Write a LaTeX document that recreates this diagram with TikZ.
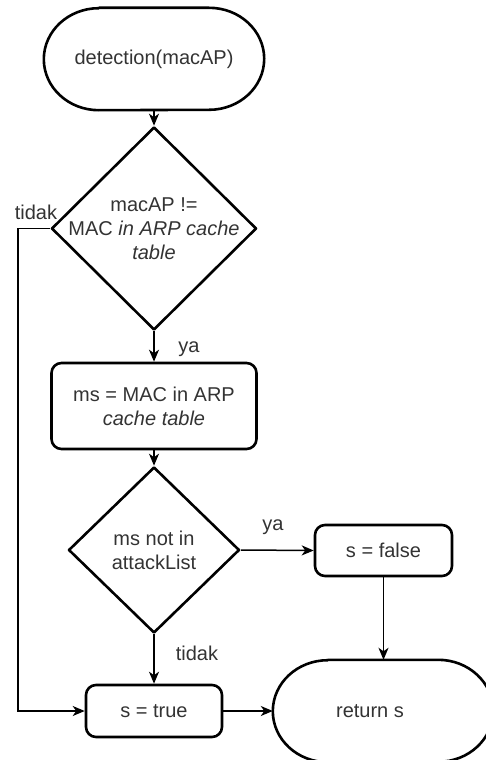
\documentclass[tikz,border=0pt]{standalone}
\usepackage{fontspec}
\setmainfont{Liberation Sans}
\usetikzlibrary{shapes.geometric,arrows.meta}
\definecolor{txt}{HTML}{333333}
\begin{document}
\begin{tikzpicture}[x=1pt,y=-1pt,
  font=\fontsize{20}{24}\selectfont, text=txt,
  outline/.style={draw=black, line width=2.6pt, line join=round},
  proc/.style={outline, rounded corners=10pt, inner sep=0pt, align=center},
  decision/.style={outline, diamond, inner sep=0pt},
  term/.style={inner sep=0pt, minimum width=220pt, minimum height=102pt},
  txtnode/.style={align=center, inner sep=0pt},
  flow/.style={draw=black, line width=1.5pt, -{Stealth[length=12pt,width=10pt,inset=3.5pt]}},
  lbl/.style={anchor=base, inner sep=0pt},
]
\useasboundingbox (0,0) rectangle (486,760);

% start terminator
\node[term] (start) at (154,59) {detection(macAP)};
\draw[outline] ([xshift=55pt]start.north west) -- ([xshift=-55pt]start.north east)
  arc[start angle=90, end angle=-90, x radius=55pt, y radius=51pt]
  -- ([xshift=55pt]start.south west)
  arc[start angle=270, end angle=90, x radius=55pt, y radius=51pt] -- cycle;

% first decision
\node[decision, minimum width=205pt, minimum height=203pt] (d1) at (154,228.5) {};
\node[txtnode] (d1t) at (d1) {macAP !=\\MAC \textit{in ARP cache}\\\textit{table}};

% lookup
\node[proc, minimum width=205pt, minimum height=86pt] (ms) at (154,406)
  {ms = MAC in ARP\\\textit{cache table}};

% second decision
\node[decision, minimum width=171pt, minimum height=166pt] (d2) at (154,550) {};
\node[txtnode] (d2t) at (d2) {ms not in\\attackList};

% results
\node[proc, minimum width=137pt, minimum height=51pt] (sfalse) at (383.5,550.5) {s = false};
\node[proc, minimum width=136pt, minimum height=52pt] (strue) at (154,711) {s = true};

% return terminator
\node[term] (ret) at (383,711) {};
\draw[outline] ([xshift=55pt]ret.north west) -- ([xshift=-55pt]ret.north east)
  arc[start angle=90, end angle=-90, x radius=55pt, y radius=51pt]
  -- ([xshift=55pt]ret.south west)
  arc[start angle=270, end angle=90, x radius=55pt, y radius=51pt] -- cycle;
\node[txtnode] (rett) at (370,711) {return s};

% connectors
\coordinate (loop) at (18,228.5);
\draw[flow] (start.south) -- (d1.north);
\draw[flow] (d1.south) -- (ms.north);
\draw[flow] (ms.south) -- (d2.north);
\draw[flow] (d2.east) -- (sfalse.west);
\draw[flow] (d2.south) -- (strue.north);
\draw[flow] (d1.west) -- (loop) |- (strue.west);
\draw[flow] (sfalse.south) -- (sfalse.south |- ret.north);
\draw[flow] (strue.east) -- (ret.west);

% branch labels
\node[lbl] (l1) at (36,219) {tidak};
\node[lbl] (l2) at (189,352) {ya};
\node[lbl] (l3) at (273,530) {ya};
\node[lbl] (l4) at (197,660) {tidak};
\end{tikzpicture}
\end{document}
